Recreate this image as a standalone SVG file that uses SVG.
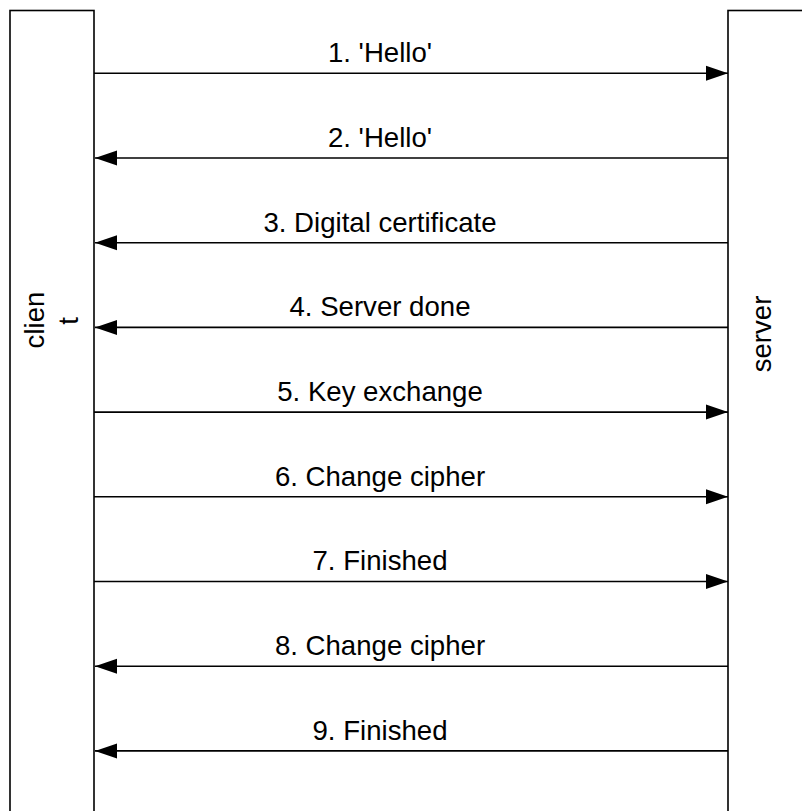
<svg xmlns="http://www.w3.org/2000/svg" width="802" height="811" viewBox="0 0 802 811">
<defs>
<marker id="ah" markerUnits="userSpaceOnUse" markerWidth="24" markerHeight="18" refX="22" refY="8" orient="auto">
<path d="M0,0.5 L22,8 L0,15.5 Z" fill="#000"/>
</marker>
</defs>
<style>
.box{fill:#fff;stroke:#000;stroke-width:1.6}
.ln{fill:none;stroke:#000;stroke-width:1.6;marker-end:url(#ah)}
.t{font-family:"Liberation Sans",Arial,sans-serif;font-size:27.6px;fill:#000;text-anchor:middle}
</style>
<rect width="802" height="811" fill="#fff"/>
<g id="client">
<rect class="box" x="10" y="10.5" width="84" height="820"/>
<text class="t" transform="translate(44,320) rotate(-90)">clien</text>
<text class="t" transform="translate(78,321) rotate(-90)">t</text>
</g>
<g id="server">
<rect class="box" x="728" y="10.5" width="100" height="820"/>
<text class="t" transform="translate(771,334) rotate(-90)">server</text>
</g>
<g id="connectors">
<line class="ln" x1="94" y1="73.3" x2="728" y2="73.3"/>
<line class="ln" x1="728" y1="158" x2="95" y2="158"/>
<line class="ln" x1="728" y1="242.7" x2="95" y2="242.7"/>
<line class="ln" x1="728" y1="327.4" x2="95" y2="327.4"/>
<line class="ln" x1="94" y1="412.1" x2="728" y2="412.1"/>
<line class="ln" x1="94" y1="496.8" x2="728" y2="496.8"/>
<line class="ln" x1="94" y1="581.5" x2="728" y2="581.5"/>
<line class="ln" x1="728" y1="666.2" x2="95" y2="666.2"/>
<line class="ln" x1="728" y1="750.9" x2="95" y2="750.9"/>
<text class="t" x="380" y="62">1. 'Hello'</text>
<text class="t" x="380" y="147">2. 'Hello'</text>
<text class="t" x="380" y="231.5">3. Digital certificate</text>
<text class="t" x="380" y="316">4. Server done</text>
<text class="t" x="380" y="401">5. Key exchange</text>
<text class="t" x="380" y="485.5">6. Change cipher</text>
<text class="t" x="380" y="570">7. Finished</text>
<text class="t" x="380" y="655">8. Change cipher</text>
<text class="t" x="380" y="739.5">9. Finished</text>
</g>
</svg>
